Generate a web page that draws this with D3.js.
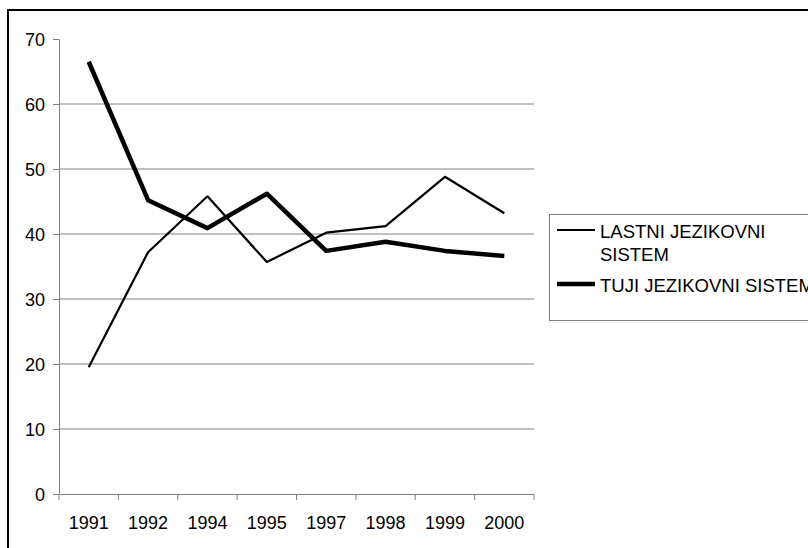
<!DOCTYPE html>
<html>
<head>
<meta charset="utf-8">
<script src="https://cdn.jsdelivr.net/npm/d3@7"></script>
<style>
  body { margin: 0; background: #fff; }
  svg { display: block; font-family: "Liberation Sans", Arial, sans-serif; }
</style>
</head>
<body>
<div id="app"></div>
<script>
// podatki, odčitani s slike
const years = ["1991", "1992", "1994", "1995", "1997", "1998", "1999", "2000"];
const lastni = [19.5, 37.2, 45.8, 35.7, 40.2, 41.2, 48.8, 43.2];
const tuji = [66.5, 45.2, 40.9, 46.2, 37.4, 38.8, 37.4, 36.6];
const yTicks = [0, 10, 20, 30, 40, 50, 60, 70];
const legendLines = [["LASTNI JEZIKOVNI", "SISTEM"], ["TUJI JEZIKOVNI SISTEM"]];

const width = 808, height = 548;
const font = "Liberation Sans, Arial, sans-serif";

const svg = d3.select("#app").append("svg")
  .attr("width", width)
  .attr("height", height);

// okvir grafikona
svg.append("rect")
  .attr("x", 8).attr("y", 10)
  .attr("width", 830).attr("height", 560)
  .attr("fill", "none")
  .attr("stroke", "#000")
  .attr("stroke-width", 2);

const x = d3.scaleBand().domain(years).range([59, 534]);
const y = d3.scaleLinear().domain([0, 70]).range([494, 39]);

// mreža
svg.append("g")
  .selectAll("line")
  .data(yTicks.filter(d => d > 0 && d < 70))
  .join("line")
  .attr("x1", x.range()[0]).attr("x2", x.range()[1])
  .attr("y1", d => y(d)).attr("y2", d => y(d))
  .attr("stroke", "#808080")
  .attr("stroke-width", 1);

// y os
const yAxis = svg.append("g")
  .attr("transform", `translate(${x.range()[0]},0)`)
  .call(d3.axisLeft(y).tickValues(yTicks).tickSize(6).tickSizeOuter(0).tickPadding(8));
yAxis.select(".domain").attr("stroke", "#808080");
yAxis.selectAll(".tick line").attr("stroke", "#808080");
yAxis.selectAll(".tick text")
  .attr("font-size", 18)
  .attr("font-family", font)
  .attr("fill", "#000")
  .attr("dy", "0.35em");

// x os: oznake na sredini, črtice na mejah
const xAxis = svg.append("g")
  .attr("transform", `translate(0,${y(0)})`)
  .call(d3.axisBottom(x).tickSize(0).tickSizeOuter(0).tickPadding(22));
xAxis.select(".domain").attr("stroke", "#808080");
xAxis.selectAll(".tick text")
  .attr("font-size", 18)
  .attr("font-family", font)
  .attr("fill", "#000");

xAxis.selectAll("line.bound")
  .data(years.map(d => x(d)).concat([x.range()[1]]))
  .join("line")
  .attr("class", "bound")
  .attr("x1", d => d).attr("x2", d => d)
  .attr("y1", 0).attr("y2", 6)
  .attr("stroke", "#808080");

// črte
const line = d3.line()
  .x((d, i) => x(years[i]) + x.bandwidth() / 2)
  .y(d => y(d));

svg.append("path")
  .datum(lastni)
  .attr("d", line)
  .attr("fill", "none")
  .attr("stroke", "#000")
  .attr("stroke-width", 2.2)
  .attr("stroke-linejoin", "round");

svg.append("path")
  .datum(tuji)
  .attr("d", line)
  .attr("fill", "none")
  .attr("stroke", "#000")
  .attr("stroke-width", 4.5)
  .attr("stroke-linejoin", "round");

// legenda
const legend = svg.append("g")
  .attr("font-family", font)
  .attr("font-size", 18.5);
legend.append("rect")
  .attr("x", 549.5).attr("y", 214.5)
  .attr("width", 300).attr("height", 106)
  .attr("fill", "#fff")
  .attr("stroke", "#808080");

legend.append("line")
  .attr("x1", 557).attr("x2", 595)
  .attr("y1", 230).attr("y2", 230)
  .attr("stroke", "#000").attr("stroke-width", 2.2);
legend.append("line")
  .attr("x1", 557).attr("x2", 595)
  .attr("y1", 284).attr("y2", 284)
  .attr("stroke", "#000").attr("stroke-width", 4.5);

const baselines = [[238, 261], [292]];
legendLines.forEach((rows, i) => {
  rows.forEach((t, j) => {
    legend.append("text")
      .attr("x", 600).attr("y", baselines[i][j])
      .text(t);
  });
});
</script>
</body>
</html>
